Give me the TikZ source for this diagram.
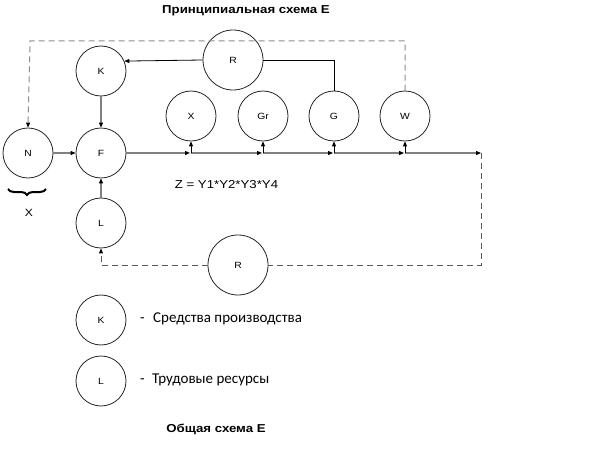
\documentclass[tikz,border=0pt]{standalone}
\usepackage{fontspec}
\setmainfont{Liberation Sans}[FakeStretch=1.15]
\newfontfamily\legendfont{Carlito}
\usetikzlibrary{arrows.meta,decorations.pathreplacing}
\begin{document}
\begin{tikzpicture}[x=1pt,y=-1pt,
  circ/.style={circle,draw=black!85,line width=0.8pt,minimum size=50pt,inner sep=0pt,font=\fontsize{9}{10}\selectfont},
  bigcirc/.style={circ,minimum size=60pt},
  tip/.style={-{Triangle[length=5pt,width=4pt,color=black]}},
  flow/.style={draw=black!50,line width=1.1pt},
  solidln/.style={draw=black,line width=0.8pt},
  dashln/.style={draw=black!45,line width=1pt,dash pattern=on 6pt off 4pt},
  dashdk/.style={draw=black!65,line width=1pt,dash pattern=on 6pt off 4pt},
  ttl/.style={font=\bfseries\fontsize{11.5}{13}\selectfont},
  lgd/.style={anchor=base west,inner sep=0pt,font=\legendfont\fontsize{15}{17}\selectfont}]
\useasboundingbox (0,0) rectangle (598,460);
\node[ttl] (title) at (246,11) {Принципиальная схема E};
\node[circ] (N) at (28,153) {N};
\node[circ] (F) at (101,153) {F};
\node[circ] (K) at (101,71) {K};
\node[circ] (L) at (101,223) {L};
\node[bigcirc] (R1) at (233,60) {R};
\node[circ] (X) at (191,116) {X};
\node[circ] (Gr) at (263,116) {Gr};
\node[circ] (G) at (334,116) {G};
\node[circ] (W) at (405,116) {W};
\node[bigcirc] (R2) at (238,265) {R};
% main flow
\coordinate (p1) at (191,153);
\coordinate (p2) at (263,153);
\coordinate (p3) at (334,153);
\coordinate (p4) at (405,153);
\coordinate (pe) at (481,153);
\draw[flow,tip] (F.east) -- ([xshift=-1pt]p1);
\draw[flow,tip] (p1) -- ([xshift=-1pt]p2);
\draw[flow,tip] (p2) -- ([xshift=-1pt]p3);
\draw[flow,tip] (p3) -- ([xshift=-1pt]p4);
\draw[flow,tip] (p4) -- (pe);
\draw[solidln,tip] (p1) -- (X.south);
\draw[solidln,tip] (p2) -- (Gr.south);
\draw[solidln,tip] (p3) -- (G.south);
\draw[solidln,tip] (p4) -- (W.south);
% inputs to F
\draw[flow,tip] (N.east) -- (F.west);
\draw[flow,tip] (K.south) -- (F.north);
\draw[flow,tip] (L.north) -- (F.south);
% R top
\draw[solidln,tip] (R1.west) -- (K.23);
\draw[solidln] (R1.east) -| (G.north);
% top dashed loop
\coordinate (tr) at (405,41);
\coordinate (tl) at (30,41);
\draw[dashln,tip] (W.north) -- (tr) -- (tl) -- (N.north);
% bottom dashed loop
\coordinate (br) at (481,265);
\coordinate (bl) at (101,265);
\draw[dashdk] (pe) -- (br) -- (R2.east);
\draw[dashdk,tip] (R2.west) -- (bl) -- (L.south);
% brace and formula
\coordinate (b1) at (46,189);
\coordinate (b2) at (8,189);
\draw[line width=2pt,decorate,decoration={brace,amplitude=6pt}] (b1) -- (b2);
\node[font=\fontsize{10.5}{12}\selectfont] (xl) at (29,213) {X};
\node[font=\fontsize{11.5}{13}\selectfont] (z) at (226.5,185) {Z = Y1*Y2*Y3*Y4};
% legend
\node[circ] (KL) at (101,320) {K};
\node[circ] (LL) at (101,381) {L};
\node[lgd] (kd) at (140,322.5) {-};
\node[lgd] (kt) at (153,322.5) {Средства производства};
\node[lgd] (ld) at (140,383.5) {-};
\node[lgd] (lt) at (152,383.5) {Трудовые ресурсы};
\node[ttl] (title2) at (216,429) {Общая схема E};
\end{tikzpicture}
\end{document}
